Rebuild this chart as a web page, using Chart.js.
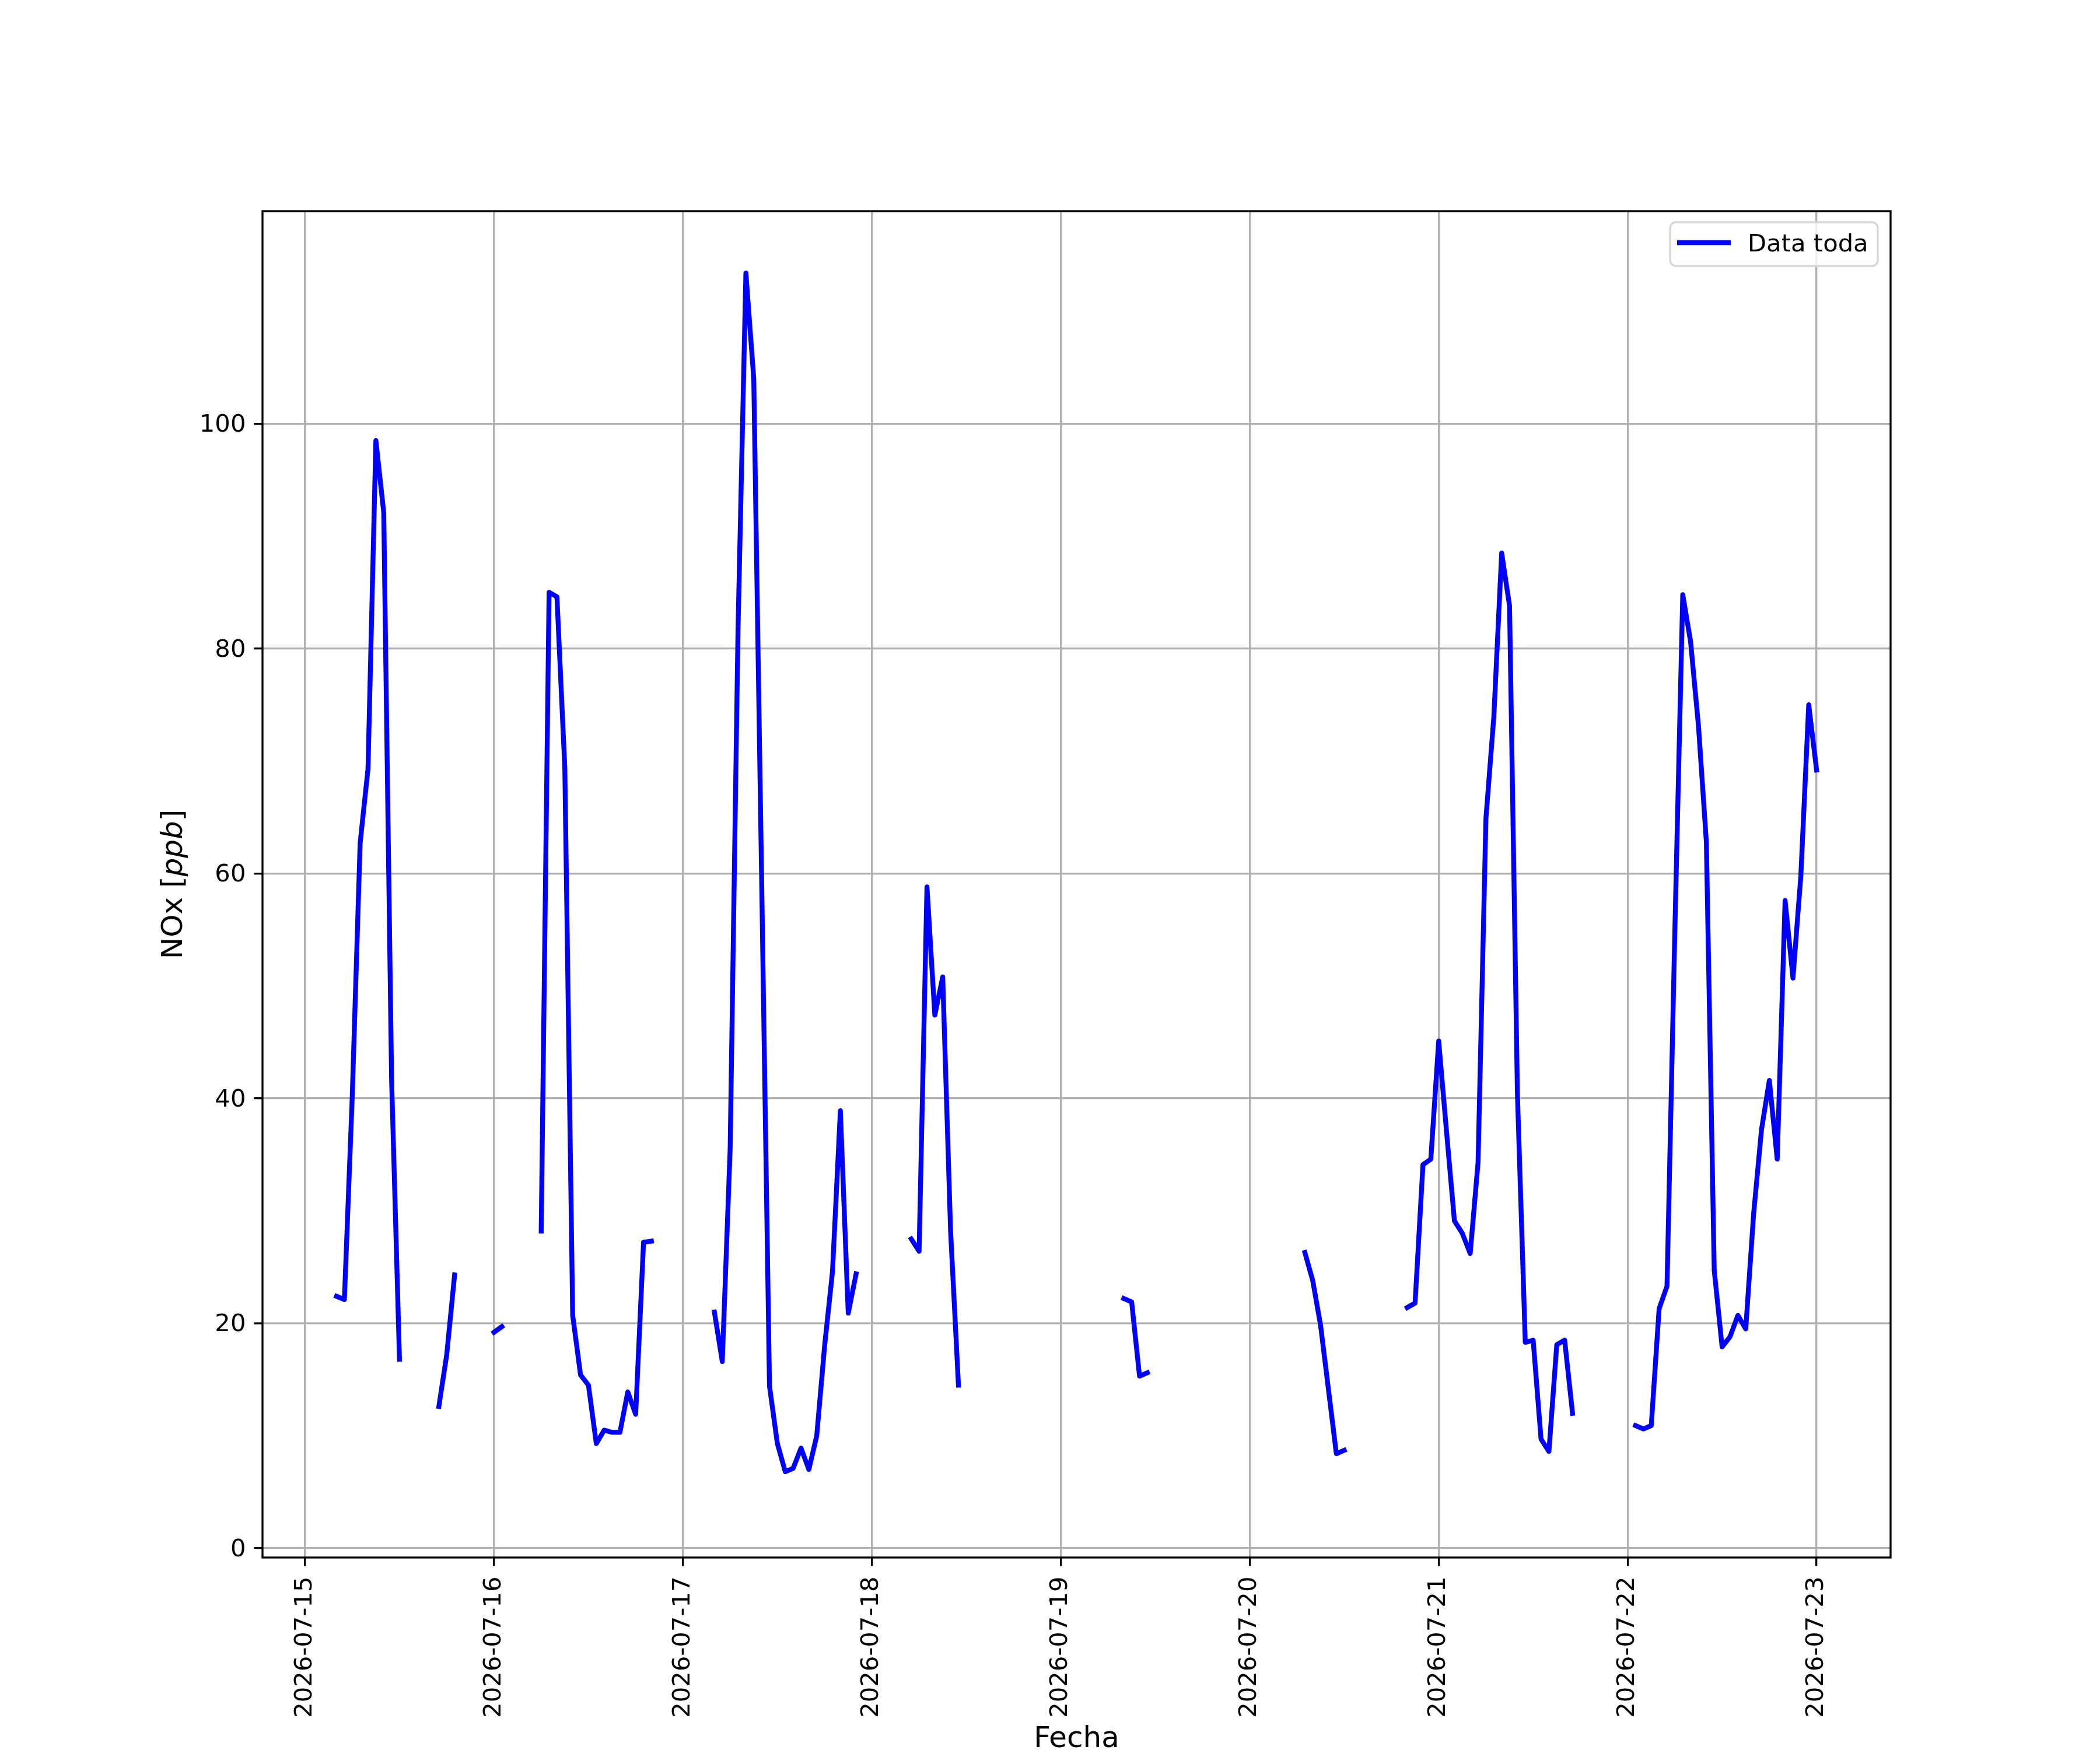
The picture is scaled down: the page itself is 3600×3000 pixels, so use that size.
<!DOCTYPE html>
<html>
<head>
<meta charset="utf-8">
<script src="https://cdn.jsdelivr.net/npm/chart.js@4.4.1/dist/chart.umd.min.js"></script>
<style>
  html, body { margin: 0; padding: 0; background: #fff; }
  canvas { display: block; }
</style>
</head>
<body>
<canvas id="noxChart" width="3600" height="3000" style="width:3600px;height:3000px"></canvas>
<script>
// Dates of the x ticks, one per day (hours counted from 2026-07-15 00:00)
const dayLabels = ['2026-07-15', '2026-07-16', '2026-07-17', '2026-07-18', '2026-07-19',
                   '2026-07-20', '2026-07-21', '2026-07-22', '2026-07-23'];
const yTicks = [0, 20, 40, 60, 80, 100];

// hourly NOx [ppb], null where no data
const nox15 = [null, null, null, null, 22.4, 22.1, 40.2, 62.7, 69.3, 98.5, 92.1, 41.6,
               16.8, null, null, null, null, 12.6, 17.2, 24.3, null, null, null, null];
const nox16 = [19.2, 19.7, null, null, null, null, 28.2, 85.0, 84.6, 69.4, 20.7, 15.4,
               14.5, 9.3, 10.5, 10.3, 10.3, 13.9, 11.9, 27.2, 27.3, null, null, null];
const nox17 = [null, null, null, null, 21.0, 16.6, 35.5, 81.7, 113.4, 104.0, 59.5, 14.4,
               9.3, 6.8, 7.1, 8.9, 7.0, 10.0, 18.0, 24.6, 38.9, 20.9, 24.4, null];
const nox18 = [null, null, null, null, null, 27.5, 26.4, 58.8, 47.4, 50.8, 28.2, 14.5,
               null, null, null, null, null, null, null, null, null, null, null, null];
const nox19 = [null, null, null, null, null, null, null, null, 22.2, 21.9, 15.3, 15.6,
               null, null, null, null, null, null, null, null, null, null, null, null];
const nox20 = [null, null, null, null, null, null, null, 26.3, 23.8, 19.8, 14.1, 8.4,
               8.7, null, null, null, null, null, null, null, 21.4, 21.8, 34.1, 34.6];
const nox21 = [45.1, 37.0, 29.1, 28.0, 26.2, 34.3, 64.9, 73.9, 88.5, 83.8, 40.4, 18.3,
               18.5, 9.7, 8.6, 18.1, 18.5, 12.0, null, null, null, null, null, null];
const nox22 = [null, 10.9, 10.6, 10.9, 21.3, 23.3, 55.0, 84.8, 80.6, 73.1, 62.8, 24.7,
               17.9, 18.8, 20.7, 19.5, 29.7, 37.2, 41.6, 34.6, 57.6, 50.7, 59.8, 75.0];
const nox23 = [69.2];

const byDay = [nox15, nox16, nox17, nox18, nox19, nox20, nox21, nox22, nox23];
const points = [];
byDay.forEach((vals, d) => {
    vals.forEach((v, h) => points.push({ x: d * 24 + h, y: v }));
});

const FONT = 'DejaVu Sans';
const LW = 8.33;      // 2pt at 300 dpi
const THIN = 3.33;    // 0.8pt

// frame, legend and axis titles, drawn like matplotlib does
const mplExtras = {
    id: 'mplExtras',
    beforeDraw(chart) {
        const ctx = chart.ctx;
        ctx.save();
        ctx.fillStyle = '#ffffff';
        ctx.fillRect(0, 0, chart.width, chart.height);
        ctx.restore();
    },
    afterDraw(chart) {
        const ctx = chart.ctx;
        const a = chart.chartArea;
        ctx.save();

        // axes frame
        ctx.strokeStyle = '#000000';
        ctx.lineWidth = THIN;
        ctx.strokeRect(a.left, a.top, a.right - a.left, a.bottom - a.top);

        // legend box
        const bx = 2863, by = 381, bw = 356, bh = 75, r = 10;
        ctx.beginPath();
        ctx.roundRect(bx, by, bw, bh, r);
        ctx.fillStyle = 'rgba(255,255,255,0.8)';
        ctx.fill();
        ctx.strokeStyle = '#d6d6d6';
        ctx.lineWidth = THIN;
        ctx.stroke();

        ctx.beginPath();
        ctx.moveTo(2875, 416);
        ctx.lineTo(2967, 416);
        ctx.strokeStyle = '#0000ff';
        ctx.lineWidth = LW;
        ctx.lineCap = 'butt';
        ctx.stroke();

        ctx.fillStyle = '#000000';
        ctx.font = '41.7px "' + FONT + '"';
        ctx.textAlign = 'left';
        ctx.textBaseline = 'alphabetic';
        ctx.fillText('Data toda', 2996, 431);

        // x title
        ctx.font = '50px "' + FONT + '"';
        ctx.textAlign = 'center';
        ctx.fillText('Fecha', (a.left + a.right) / 2, 2995);

        // y title with italic unit
        const parts = [['NOx [', 'normal'], ['ppb', 'italic'], [']', 'normal']];
        let total = 0;
        parts.forEach(p => {
            ctx.font = p[1] + ' 50px "' + FONT + '"';
            p.push(ctx.measureText(p[0]).width);
            total += p[2];
        });
        ctx.translate(312, (a.top + a.bottom) / 2);
        ctx.rotate(-Math.PI / 2);
        ctx.textAlign = 'left';
        let px = -total / 2;
        parts.forEach(p => {
            ctx.font = p[1] + ' 50px "' + FONT + '"';
            ctx.fillText(p[0], px, 0);
            px += p[2];
        });
        ctx.restore();
    }
};

new Chart(document.getElementById('noxChart').getContext('2d'), {
    type: 'line',
    data: {
        datasets: [{
            label: 'Data toda',
            data: points,
            borderColor: '#0000ff',
            backgroundColor: '#0000ff',
            borderWidth: LW,
            borderCapStyle: 'square',
            borderJoinStyle: 'round',
            pointRadius: 0,
            tension: 0,
            spanGaps: false,
            fill: false
        }]
    },
    options: {
        responsive: false,
        devicePixelRatio: 1,
        animation: false,
        layout: { padding: { top: 362, right: 359, left: 0, bottom: 0 } },
        plugins: { legend: { display: false }, tooltip: { enabled: false } },
        scales: {
            x: {
                type: 'linear',
                min: -5.4,
                max: 201.4,
                afterFit: s => { s.height = 330; },
                afterBuildTicks: s => { s.ticks = dayLabels.map((_, i) => ({ value: i * 24 })); },
                border: { display: false },
                grid: { color: '#b0b0b0', lineWidth: THIN, tickColor: '#000000', tickWidth: THIN, tickLength: 14.6 },
                ticks: {
                    autoSkip: false,
                    minRotation: 90,
                    maxRotation: 90,
                    padding: 18,
                    color: '#000000',
                    font: { family: FONT, size: 41.7 },
                    callback: v => dayLabels[Math.round(v / 24)]
                }
            },
            y: {
                type: 'linear',
                min: -0.83,
                max: 118.9,
                afterFit: s => { s.width = 450; },
                afterBuildTicks: s => { s.ticks = yTicks.map(v => ({ value: v })); },
                border: { display: false },
                grid: { color: '#b0b0b0', lineWidth: THIN, tickColor: '#000000', tickWidth: THIN, tickLength: 14.6 },
                ticks: {
                    padding: 14,
                    labelOffset: 3,
                    color: '#000000',
                    font: { family: FONT, size: 41.7 },
                    callback: v => String(v)
                }
            }
        }
    },
    plugins: [mplExtras]
});
</script>
</body>
</html>
